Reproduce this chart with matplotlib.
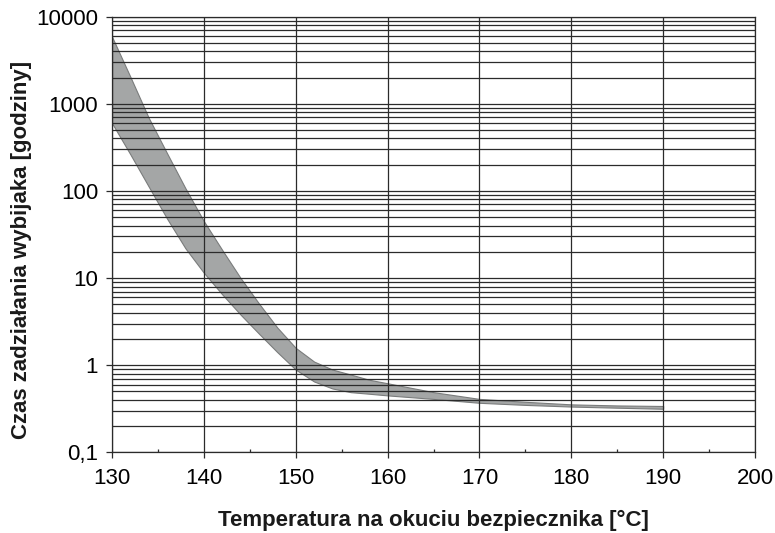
import matplotlib.pyplot as plt
from matplotlib.ticker import LogLocator, MultipleLocator, NullFormatter

plt.rcParams['font.family'] = ['Liberation Sans', 'DejaVu Sans']

# ---------------------------------------------------
# band of fuse striker operating time (hours) vs. temperature
temp = [130, 132, 134, 136, 138, 140, 142, 144, 146, 148, 150,
        152, 154, 156, 158, 160, 165, 170, 175, 180, 185, 190]
t_upper = [5900, 2040, 690, 270, 107, 45, 21, 10, 5.1, 2.7, 1.58,
           1.1, 0.89, 0.78, 0.68, 0.62, 0.49, 0.41, 0.38, 0.355, 0.345, 0.34]
t_lower = [600, 263, 112, 48, 21.9, 11.5, 6.5, 3.8, 2.3, 1.41, 0.89,
           0.65, 0.54, 0.49, 0.47, 0.45, 0.41, 0.37, 0.35, 0.335, 0.325, 0.316]

y_ticks = [0.1, 1, 10, 100, 1000, 10000]
y_tick_labels = ['0,1', '1', '10', '100', '1000', '10000']
x_label = 'Temperatura na okuciu bezpiecznika [°C]'
y_label = 'Czas zadziałania wybijaka [godziny]'
# ---------------------------------------------------

grid_col = '#2b2b2b'

fig = plt.figure(figsize=(7.75, 5.33), dpi=100)
ax = fig.add_axes([112 / 775, 1 - 452.3 / 533, 643 / 775, 435.6 / 533])

ax.fill_between(temp, t_lower, t_upper, facecolor='#a4a6a6',
                edgecolor='#7a7c7c', linewidth=0.8, zorder=1)

ax.set_yscale('log')
ax.set_xlim(130, 200)
ax.set_ylim(0.1, 10000)

ax.set_yticks(y_ticks)
ax.set_yticklabels(y_tick_labels)
ax.yaxis.set_minor_locator(LogLocator(base=10, subs=range(2, 10)))
ax.yaxis.set_minor_formatter(NullFormatter())
ax.xaxis.set_major_locator(MultipleLocator(10))
ax.xaxis.set_minor_locator(MultipleLocator(5))

ax.set_axisbelow(False)
ax.grid(which='both', axis='y', color=grid_col, linewidth=0.9)
ax.grid(which='major', axis='x', color=grid_col, linewidth=0.9)

ax.tick_params(axis='y', which='major', direction='out', length=4,
               width=0.9, color=grid_col, labelsize=16, pad=6)
ax.tick_params(axis='y', which='minor', length=0)
ax.tick_params(axis='x', which='major', direction='out', length=4,
               width=0.9, color=grid_col, labelsize=16, pad=7)
ax.tick_params(axis='x', which='minor', direction='in', length=2.5,
               width=0.9, color=grid_col)

for s in ax.spines.values():
    s.set_color(grid_col)
    s.set_linewidth(0.9)

ax.set_xlabel(x_label, fontsize=16, fontweight='bold', color='#1a1a1a',
              va='baseline')
ax.xaxis.set_label_coords(0.5, -0.17)
ax.set_ylabel(y_label, fontsize=16, fontweight='bold', color='#1a1a1a')
ax.yaxis.set_label_coords(-0.124, 0.465)

fig.savefig('out.png', dpi=100)
